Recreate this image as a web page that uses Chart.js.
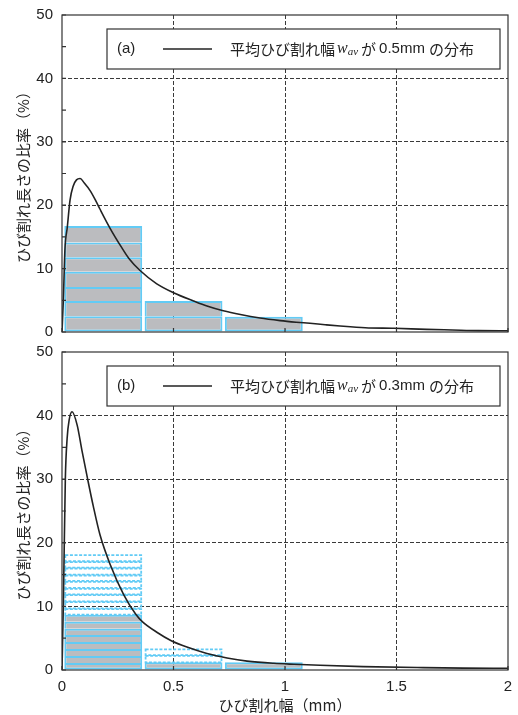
<!DOCTYPE html>
<html>
<head>
<meta charset="utf-8">
<script src="https://cdn.jsdelivr.net/npm/chart.js@4.4.1/dist/chart.umd.min.js"></script>
<style>
  html, body { margin: 0; padding: 0; background: #fff; }
  .box { position: absolute; left: 0; width: 518px; }
</style>
</head>
<body>
<div class="box" style="top:0;height:340px"><canvas id="chartA"></canvas></div>
<div class="box" style="top:340px;height:375px"><canvas id="chartB"></canvas></div>
<script>
// bin centres of the histogram bars (mm)
const binCenters = [0.185, 0.545, 0.905];

// (a) distribution for w_av = 0.5mm
const curveAx = [0, 0.006, 0.013, 0.024, 0.036, 0.05, 0.065, 0.081, 0.1, 0.126, 0.15, 0.17, 0.215, 0.268, 0.3, 0.35, 0.425, 0.5, 0.59, 0.65, 0.723, 0.8, 0.888, 0.978, 1.05, 1.112, 1.18, 1.247, 1.36, 1.49, 1.635, 1.75, 1.867, 2.0];
const curveAy = [0, 5.0, 12.9, 16.6, 20.8, 23.0, 24.0, 24.2, 23.5, 22.3, 20.8, 19.4, 16.4, 13.3, 11.6, 9.7, 7.6, 6.2, 4.9, 4.1, 3.35, 2.75, 2.2, 1.8, 1.55, 1.37, 1.15, 0.95, 0.68, 0.58, 0.42, 0.32, 0.22, 0.2];
// stripe levels of each bar (solid)
const barsA = [
  [0, 2.5, 4.9, 7.1, 9.5, 11.8, 14.1, 16.7],
  [0, 2.5, 4.9],
  [0, 2.4]
];

// (b) distribution for w_av = 0.3mm
const curveBx = [0, 0.006, 0.015, 0.023, 0.032, 0.045, 0.068, 0.09, 0.115, 0.14, 0.17, 0.217, 0.277, 0.33, 0.36, 0.427, 0.49, 0.56, 0.65, 0.74, 0.83, 0.95, 1.04, 1.157, 1.35, 1.62, 1.8, 2.0];
const curveBy = [0, 10.2, 30.1, 36.4, 39.3, 40.6, 38.5, 34.4, 30.0, 25.8, 21.3, 16.5, 11.8, 8.8, 7.6, 5.9, 4.6, 3.6, 2.6, 1.9, 1.4, 1.05, 0.9, 0.74, 0.53, 0.37, 0.3, 0.27];
const barsB = [
  [0, 1.1, 2.2, 3.3, 4.4, 5.5, 6.5, 7.6, 8.7],
  [0, 1.2],
  [0, 1.2]
];
// dashed outline stripes stacked on top
const dashedB = [
  [8.7, 9.7, 10.8, 11.9, 12.9, 14.0, 15.0, 16.1, 17.1, 18.2],
  [1.2, 2.35, 3.4],
  []
];

const BLUE = '#62cbf5';
const GRAY = '#bbbcbf';
const INK = '#222';
const SANS = '"Liberation Sans", Arial, sans-serif';
const CJK = '"Noto Sans CJK JP", "Noto Sans", sans-serif';

function segments(levels) {
  const out = [];
  levels.forEach((lv, i) => {
    for (let k = 0; k < lv.length - 1; k++) {
      out.push({x: binCenters[i], y: [lv[k], lv[k + 1]]});
    }
  });
  return out;
}

function curve(xs, ys) {
  return xs.map((x, i) => ({x: x, y: ys[i]}));
}

// dashed rectangles, drawn on the bar elements laid out by chart.js
const dashedBars = {
  id: 'dashedBars',
  beforeDatasetsDraw(chart) {
    const ctx = chart.ctx;
    chart.data.datasets.forEach((ds, i) => {
      if (!ds.dashedOutline) return;
      const meta = chart.getDatasetMeta(i);
      ctx.save();
      ctx.strokeStyle = BLUE;
      ctx.lineWidth = 1.8;
      ctx.setLineDash([3, 1.6]);
      meta.data.forEach(el => {
        const p = el.getProps(['x', 'y', 'base', 'width'], true);
        const top = Math.min(p.y, p.base);
        const h = Math.abs(p.base - p.y);
        ctx.strokeRect(p.x - p.width / 2 + 1, top + 0.9, p.width - 2, h - 0.9);
      });
      ctx.restore();
    });
  }
};

// frame, inward ticks and the boxed legend
const frame = {
  id: 'frame',
  afterDraw(chart, args, opts) {
    const {ctx, chartArea: a} = chart;
    const ys = chart.scales.y, xs = chart.scales.x;
    ctx.save();
    ctx.strokeStyle = '#333';
    ctx.lineWidth = 1.2;
    ctx.strokeRect(a.left, a.top, a.right - a.left, a.bottom - a.top);
    ctx.beginPath();
    ys.ticks.forEach(t => {
      const y = ys.getPixelForValue(t.value);
      ctx.moveTo(a.left, y); ctx.lineTo(a.left + 4, y);
    });
    xs.ticks.forEach(t => {
      const x = xs.getPixelForValue(t.value);
      ctx.moveTo(x, a.bottom); ctx.lineTo(x, a.bottom - 4);
    });
    ctx.stroke();

    // legend box
    const x0 = a.left + 45, y0 = a.top + 14, w = 393, h = 40;
    const cy = y0 + h / 2;
    ctx.fillStyle = '#fff';
    ctx.fillRect(x0, y0, w, h);
    ctx.strokeStyle = '#333';
    ctx.strokeRect(x0, y0, w, h);
    ctx.fillStyle = INK;
    ctx.textBaseline = 'middle';
    ctx.font = '15px ' + SANS;
    ctx.fillText(opts.tag, x0 + 10, cy);
    ctx.beginPath();
    ctx.lineWidth = 1.6;
    ctx.strokeStyle = INK;
    ctx.moveTo(x0 + 56, cy); ctx.lineTo(x0 + 105, cy);
    ctx.stroke();

    let x = x0 + 123;
    const put = (text, font, dy, gap) => {
      ctx.font = font;
      ctx.fillText(text, x, cy + dy);
      x += ctx.measureText(text).width + gap;
    };
    put('平均ひび割れ幅', '15px ' + CJK, 0, 2);
    put('w', 'italic 16px "Liberation Serif", serif', 0, 0);
    put('av', 'italic 11px "Liberation Serif", serif', 3, 3);
    put('が', '15px ' + CJK, 0, 3);
    put(opts.width, '15px ' + SANS, 0, 4);
    put('の分布', '15px ' + CJK, 0, 0);
    ctx.restore();
  }
};

function makeChart(id, cx, cy, solid, dashed, tag, width, bottom) {
  const datasets = [
    {
      type: 'line',
      data: curve(cx, cy),
      borderColor: INK,
      borderWidth: 1.6,
      pointRadius: 0,
      pointHoverRadius: 0,
      cubicInterpolationMode: 'monotone'
    },
    {
      data: segments(solid),
      backgroundColor: GRAY,
      borderColor: BLUE,
      borderWidth: 2,
      borderSkipped: c => (c.raw && c.raw.y[0] === 0) ? false : 'start',
      barPercentage: 0.97,
      categoryPercentage: 1
    }
  ];
  if (dashed) {
    datasets.push({
      data: segments(dashed),
      backgroundColor: 'rgba(255,255,255,0)',
      borderWidth: 0,
      barPercentage: 0.97,
      categoryPercentage: 1,
      dashedOutline: true
    });
  }

  return new Chart(document.getElementById(id), {
    type: 'bar',
    data: {datasets: datasets},
    options: {
      responsive: true,
      maintainAspectRatio: false,
      animation: false,
      layout: {autoPadding: false, padding: {top: bottom ? 12 : 15, right: 10, bottom: 0, left: 0}},
      plugins: {legend: {display: false}, tooltip: {enabled: false}, frame: {tag: tag, width: width}},
      scales: {
        x: {
          type: 'linear',
          stacked: true,
          offset: false,
          min: 0,
          max: 2,
          afterFit: s => {
            s.height = bottom ? 45 : 8;
            s.paddingLeft = 0; s.paddingRight = 0;
          },
          ticks: {
            display: bottom,
            stepSize: 0.5,
            padding: 8,
            color: INK,
            font: {family: SANS, size: 15},
            callback: v => v
          },
          grid: {
            offset: false,
            drawTicks: false,
            color: c => (c.tick && c.tick.value > 0 && c.tick.value < 2) ? '#3a3a3a' : 'rgba(0,0,0,0)',
            lineWidth: 1
          },
          border: {display: false, dash: [4, 2]},
          title: {
            display: bottom,
            text: 'ひび割れ幅（mm）',
            color: INK,
            font: {family: CJK, size: 15},
            padding: {top: 0, bottom: 1}
          }
        },
        y: {
          min: 0,
          max: 50,
          afterFit: s => {
            s.width = 62;
            s.paddingTop = 0; s.paddingBottom = 0;
          },
          ticks: {
            stepSize: 5,
            padding: 9,
            color: INK,
            font: {family: SANS, size: 15},
            callback: v => (v % 10 === 0 ? v : '')
          },
          grid: {
            drawTicks: false,
            color: c => (c.tick && c.tick.value % 10 === 0 && c.tick.value > 0 && c.tick.value < 50) ? '#3a3a3a' : 'rgba(0,0,0,0)',
            lineWidth: 1
          },
          border: {display: false, dash: [4, 2]},
          title: {
            display: true,
            text: 'ひび割れ長さの比率（%）',
            color: INK,
            font: {family: CJK, size: 15},
            padding: {top: 14, bottom: 0}
          }
        }
      }
    },
    plugins: [dashedBars, frame]
  });
}

makeChart('chartA', curveAx, curveAy, barsA, null, '(a)', '0.5mm', false);
makeChart('chartB', curveBx, curveBy, barsB, dashedB, '(b)', '0.3mm', true);
</script>
</body>
</html>
